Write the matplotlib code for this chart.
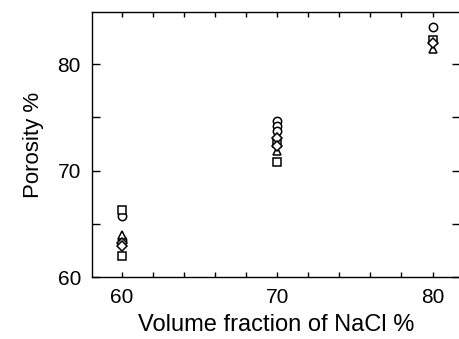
import matplotlib
matplotlib.use('Agg')
import matplotlib.pyplot as plt
from matplotlib.ticker import MultipleLocator

plt.rcParams['font.family'] = ['Liberation Sans', 'DejaVu Sans']

# porosity readings for each NaCl volume fraction, grouped by marker type
circle_x = [60, 60, 70, 70, 70, 80]
circle_y = [65.7, 63.5, 74.7, 74.2, 73.7, 83.5]
square_x = [60, 60, 70, 70, 80]
square_y = [66.3, 62.0, 70.8, 72.6, 82.3]
triangle_x = [60, 70, 80]
triangle_y = [63.9, 71.8, 81.4]
diamond_x = [60, 60, 70, 70, 80]
diamond_y = [63.2, 62.9, 73.1, 72.3, 82.0]

fig = plt.figure(figsize=(4.59, 3.39), dpi=100)
ax = fig.add_axes([92 / 459, 1 - 277 / 339, 368 / 459, 265 / 339])

style = dict(linestyle='none', markerfacecolor='white', markeredgecolor='black',
             markeredgewidth=1.1, markersize=6)
ax.plot(circle_x, circle_y, marker='o', **style)
ax.plot(square_x, square_y, marker='s', **style)
ax.plot(triangle_x, triangle_y, marker='^', **style)
ax.plot(diamond_x, diamond_y, marker='D', **dict(style, markersize=5))

ax.set_xlim(58.07, 81.77)
ax.set_ylim(60, 84.9)
ax.xaxis.set_major_locator(MultipleLocator(10))
ax.xaxis.set_minor_locator(MultipleLocator(2))
ax.yaxis.set_major_locator(MultipleLocator(10))
ax.yaxis.set_minor_locator(MultipleLocator(5))

ax.tick_params(axis='both', which='both', direction='in', top=True, right=True,
               labelsize=15, width=1.0, color='black')
ax.tick_params(axis='x', which='both', length=3.6, pad=8)
ax.tick_params(axis='y', which='both', length=6, pad=8)

for s in ax.spines.values():
    s.set_linewidth(1.0)

ax.set_xlabel('Volume fraction of NaCl %', fontsize=17, labelpad=5)
ax.set_ylabel('Porosity %', fontsize=16, labelpad=10)

fig.savefig('out.png', dpi=100)
